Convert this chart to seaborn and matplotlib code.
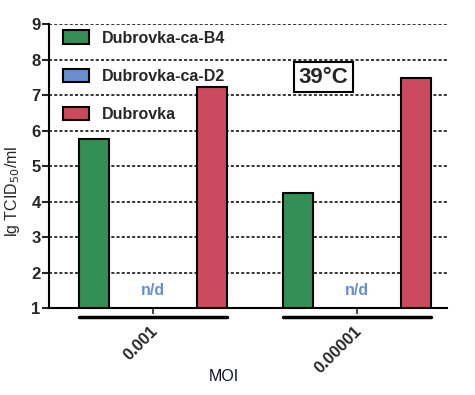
import numpy as np
import pandas as pd
import matplotlib
matplotlib.use('Agg')
import matplotlib.pyplot as plt
import matplotlib.transforms as mtransforms
from matplotlib.patches import Patch
import seaborn as sns

# data
moi = ['0.001', '0.00001']
strains = ['Dubrovka-ca-B4', 'Dubrovka-ca-D2', 'Dubrovka']
b4 = [5.77, 4.24]
d2 = [np.nan, np.nan]  # n/d
dub = [7.24, 7.49]
colors = ['#338f55', '#6a8fd0', '#cc4a5e']

df = pd.DataFrame({
    'MOI': moi * 3,
    'strain': [s for s in strains for _ in moi],
    'titer': b4 + d2 + dub,
})

sns.set_style('white')
plt.rcParams['font.family'] = ['Liberation Sans', 'DejaVu Sans']

fig = plt.figure(figsize=(4.75, 3.95), dpi=100)
ax = fig.add_axes([0.103, 0.220, 0.838, 0.719])

sns.barplot(data=df, x='MOI', y='titer', hue='strain', hue_order=strains,
            order=moi, palette=colors, saturation=1, width=0.87, gap=0.49,
            edgecolor='black', linewidth=1.5, errorbar=None, legend=False, ax=ax)

ax.set_ylim(1, 9)
ax.set_xlim(-0.51, 1.44)
ax.set_yticks(range(1, 10))
for y in range(2, 10):
    ax.axhline(y, color='black', lw=1.1, ls=(0, (2.0, 1.4)), zorder=0)

sns.despine(ax=ax)
ax.spines['left'].set_linewidth(1.5)
ax.spines['bottom'].set_linewidth(1.5)
ax.spines['left'].set_color('black')
ax.spines['bottom'].set_color('black')
ax.tick_params(axis='y', direction='out', length=5, width=1.5, left=True, labelsize=12, pad=1)
ax.tick_params(axis='x', direction='out', length=4, width=1.2, bottom=True, labelsize=12, pad=4)
for lbl in ax.get_yticklabels():
    lbl.set_fontweight('bold')
ax.set_xticks(range(len(moi)))
ax.set_xticklabels(moi, rotation=45, ha='right', rotation_mode='anchor', fontweight='semibold')
for lbl in ax.get_xticklabels():
    lbl.set_transform(lbl.get_transform() + mtransforms.ScaledTranslation(-2/72, -3/72, fig.dpi_scale_trans))

ax.set_ylabel('lg TCID$_{50}$/ml', fontsize=11.5)
ax.yaxis.set_label_coords(-0.068, 0.41)
ax.set_xlabel('MOI', fontsize=11.5, color='#111133')
ax.xaxis.set_label_coords(0.44, -0.215)

# group underlines and n/d labels
trans = mtransforms.blended_transform_factory(ax.transData, ax.transAxes)
for i in range(len(moi)):
    gb = [p for p in ax.patches if abs(p.get_x() + p.get_width() / 2 - i) < 0.5]
    x0 = min(p.get_x() for p in gb)
    x1 = max(p.get_x() + p.get_width() for p in gb)
    ax.plot([x0, x1], [-0.032, -0.032], color='black', lw=2.5, transform=trans, clip_on=False)
    ax.text(i, 1.5, 'n/d', color='#6a8fd0', fontweight='bold', fontsize=11.5,
            ha='center', va='center')

ax.text(0.835, 7.5, '39°C', fontsize=16, fontweight='bold', ha='center', va='center',
        bbox=dict(boxstyle='square,pad=0.2', fc='white', ec='black', lw=1.5))

handles = [Patch(facecolor=c, edgecolor='black', lw=1.5) for c in colors]
leg = ax.legend(handles, strains, loc='upper left', bbox_to_anchor=(0.02, 1.0), frameon=False,
                prop={'weight': 'bold', 'size': 11.5}, handlelength=1.6, handleheight=0.9,
                labelspacing=1.45, handletextpad=0.8, borderaxespad=0)

fig.savefig('out.png', dpi=100, facecolor='white')
